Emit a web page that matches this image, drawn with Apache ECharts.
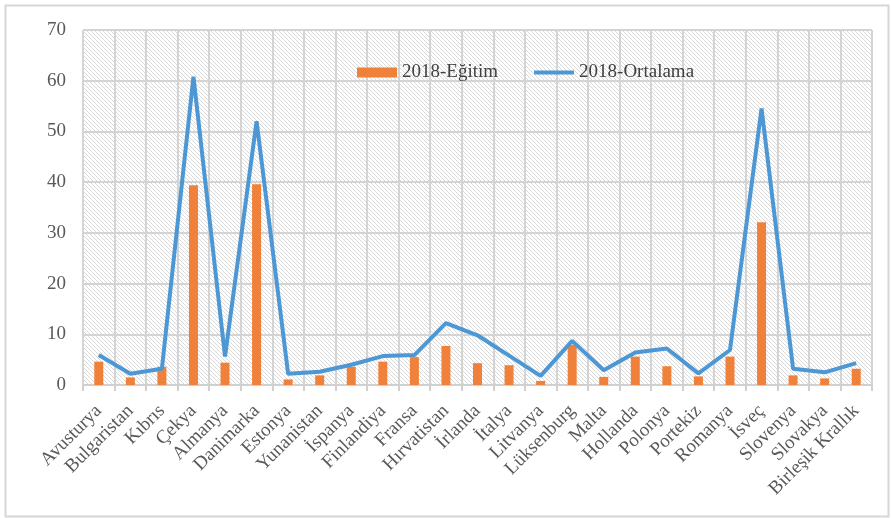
<!DOCTYPE html>
<html>
<head>
<meta charset="utf-8">
<script src="https://cdn.jsdelivr.net/npm/echarts@6/dist/echarts.min.js"></script>
<style>
  html, body { margin: 0; padding: 0; background: #fff; }
  #chart { width: 891px; height: 518px; }
</style>
</head>
<body>
<div id="chart"></div>
<script>
// Countries on the category axis
const countries = ['Avusturya', 'Bulgaristan', 'Kıbrıs', 'Çekya', 'Almanya', 'Danimarka', 'Estonya',
  'Yunanistan', 'İspanya', 'Finlandiya', 'Fransa', 'Hırvatistan', 'İrlanda', 'İtalya', 'Litvanya',
  'Lüksenburg', 'Malta', 'Hollanda', 'Polonya', 'Portekiz', 'Romanya', 'İsveç', 'Slovenya',
  'Slovakya', 'Birleşik Krallık'];

// 2018 education values (bars)
const egitim2018 = [4.6, 1.5, 3.6, 39.4, 4.4, 39.6, 1.1, 1.9, 3.6, 4.6, 5.5, 7.7, 4.3, 3.9, 0.8,
  7.9, 1.6, 5.6, 3.7, 1.7, 5.6, 32.1, 1.9, 1.3, 3.2];

// 2018 average values (line)
const ortalama2018 = [5.9, 2.2, 3.2, 60.8, 5.6, 52.0, 2.2, 2.6, 4.0, 5.7, 5.9, 12.2, 9.8, 5.8, 1.8,
  8.7, 2.9, 6.4, 7.2, 2.3, 6.9, 54.5, 3.2, 2.5, 4.3];

const seriesNames = ['2018-Eğitim', '2018-Ortalama'];

// Fine diagonal hatch fill for the plot area
function hatchPattern() {
  const s = 4;
  const c = document.createElement('canvas');
  c.width = s; c.height = s;
  const g = c.getContext('2d');
  g.fillStyle = '#ffffff';
  g.fillRect(0, 0, s, s);
  g.strokeStyle = '#d9d9d9';
  g.lineWidth = 1;
  g.beginPath();
  g.moveTo(-1, -1); g.lineTo(s + 1, s + 1);
  g.moveTo(-1, s - 1); g.lineTo(1, s + 1);
  g.moveTo(s - 1, -1); g.lineTo(s + 1, 1);
  g.stroke();
  return { image: c, repeat: 'repeat' };
}

const serif = '"Liberation Serif", "DejaVu Serif", serif';
const chart = echarts.init(document.getElementById('chart'), null, { renderer: 'canvas' });

chart.setOption({
  animation: false,
  backgroundColor: '#ffffff',
  graphic: [{
    type: 'rect',
    left: 3, top: 3,
    shape: { width: 883, height: 511 },
    style: { fill: 'none', stroke: '#d6d6d6', lineWidth: 2 },
    silent: true,
    z: -1
  }],
  grid: {
    left: 83, right: 19, top: 30, bottom: 133,
    show: true,
    backgroundColor: hatchPattern(),
    borderWidth: 0
  },
  legend: {
    left: 352, top: 58,
    itemGap: 36,
    itemWidth: 40, itemHeight: 10,
    textStyle: { fontFamily: serif, fontSize: 19, color: '#404040' },
    data: [
      { name: seriesNames[0], icon: 'rect' },
      { name: seriesNames[1], icon: 'path://M0,0L40,0L40,4L0,4Z' }
    ]
  },
  xAxis: {
    type: 'category',
    data: countries,
    boundaryGap: true,
    axisLine: { show: true, lineStyle: { color: '#d0d0d0', width: 2 } },
    axisTick: { show: true, length: 6, lineStyle: { color: '#d0d0d0', width: 2 } },
    splitLine: { show: true, lineStyle: { color: '#d4d4d4', width: 2 } },
    axisLabel: {
      rotate: 45,
      interval: 0,
      margin: 23,
      fontFamily: serif,
      fontSize: 19,
      color: '#595959'
    }
  },
  yAxis: {
    type: 'value',
    min: 0, max: 70, interval: 10,
    axisLine: { show: false },
    axisTick: { show: false },
    splitLine: { show: true, lineStyle: { color: '#d4d4d4', width: 2 } },
    axisLabel: {
      margin: 17,
      fontFamily: serif,
      fontSize: 19,
      color: '#595959'
    }
  },
  series: [
    {
      name: seriesNames[0],
      type: 'bar',
      data: egitim2018,
      barWidth: 9,
      itemStyle: { color: '#f0813a' },
      z: 2
    },
    {
      name: seriesNames[1],
      type: 'line',
      data: ortalama2018,
      symbol: 'none',
      lineStyle: { color: '#4c97d4', width: 4 },
      itemStyle: { color: '#4c97d4' },
      z: 3
    }
  ]
});
</script>
</body>
</html>
